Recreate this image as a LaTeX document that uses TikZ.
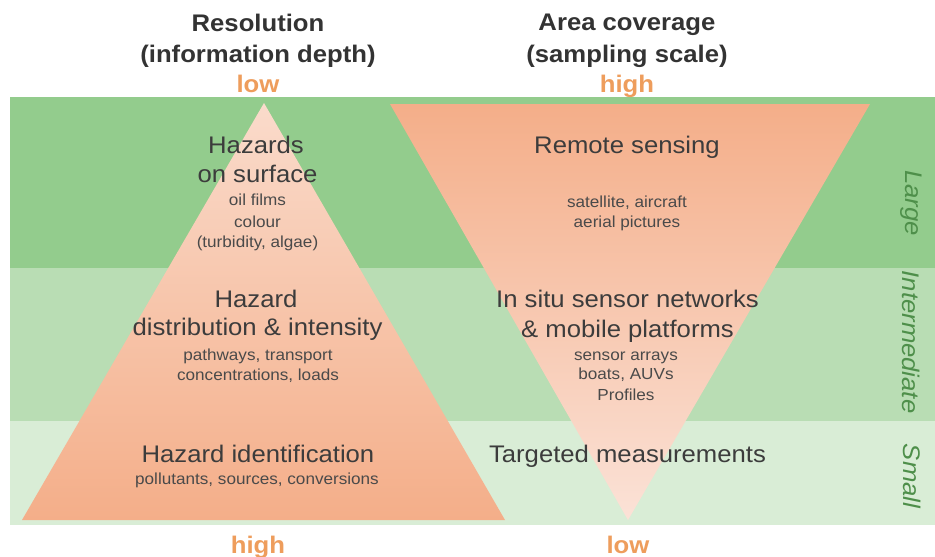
\documentclass[tikz,border=0pt]{standalone}
\usepackage{fontspec}
\setmainfont[FakeStretch=1.07]{Liberation Sans}
\begin{document}
\begin{tikzpicture}[x=1pt,y=-1pt,
  hdr/.style={font=\fontsize{24}{28}\selectfont\bfseries, text=hdrgray, inner sep=0pt, anchor=base},
  lowhigh/.style={font=\fontsize{24}{28}\selectfont\bfseries, text=orangetxt, inner sep=0pt, anchor=base},
  mainlbl/.style={font=\fontsize{24}{29}\selectfont, text=lblgray, inner sep=0pt, anchor=base},
  sublbl/.style={font=\fontsize{16}{20}\selectfont, text=sublgray, inner sep=0pt, anchor=base},
  sidelbl/.style={font=\fontsize{24}{28}\selectfont\itshape, text=sidegreen, rotate=-90, inner sep=0pt}
]
\definecolor{bandL}{HTML}{93CC8D}
\definecolor{bandI}{HTML}{B9DDB4}
\definecolor{bandS}{HTML}{D9EDD6}
\definecolor{hdrgray}{HTML}{333333}
\definecolor{orangetxt}{HTML}{EE9D5C}
\definecolor{lblgray}{HTML}{3C3C3C}
\definecolor{sublgray}{HTML}{4A4A4A}
\definecolor{sidegreen}{HTML}{4E8F4A}
\definecolor{peachdark}{HTML}{F4AE89}
\definecolor{peachlight}{HTML}{FADBCB}
\definecolor{peachpale}{HTML}{FBE2D7}
\useasboundingbox (0,0) rectangle (935,557);
\fill[white] (0,0) rectangle (935,557);
% bands
\fill[bandL] (10,97) rectangle (935,268);
\fill[bandI] (10,268) rectangle (935,421);
\fill[bandS] (10,421) rectangle (935,525);
% left pyramid
\coordinate (lapex) at (264,103);
\coordinate (lbl) at (22,520);
\coordinate (lbr) at (505,520);
\shade[top color=peachlight, bottom color=peachdark] (lapex) -- (lbr) -- (lbl) -- cycle;
% right inverted pyramid
\coordinate (rtl) at (390,104);
\coordinate (rtr) at (870,104);
\coordinate (rapex) at (628,520);
\shade[top color=peachdark, bottom color=peachpale] (rtl) -- (rtr) -- (rapex) -- cycle;
% headers
\node[hdr] (res) at (258,31) {Resolution};
\node[hdr] (resd) at (258,62) {(information depth)};
\node[lowhigh] (lowtop) at (258,92) {low};
\node[hdr] (area) at (627,30) {Area coverage};
\node[hdr] (aread) at (627,62) {(sampling scale)};
\node[lowhigh] (hightop) at (627,92) {high};
% left labels
\node[mainlbl] (haz1a) at (256,153) {Hazards};
\node[mainlbl] (haz1b) at (257.5,182) {on surface};
\node[sublbl] (haz1c) at (257.5,205) {oil films};
\node[sublbl] (haz1d) at (257.5,227) {colour};
\node[sublbl] (haz1e) at (257.5,247) {(turbidity, algae)};
\node[mainlbl] (haz2a) at (256,307) {Hazard};
\node[mainlbl] (haz2b) at (257.5,335) {distribution \& intensity};
\node[sublbl] (haz2c) at (258,360) {pathways, transport};
\node[sublbl] (haz2d) at (258,380) {concentrations, loads};
\node[mainlbl] (haz3a) at (258,462) {Hazard identification};
\node[sublbl] (haz3b) at (257,484) {pollutants, sources, conversions};
% right labels
\node[mainlbl] (rsa) at (627,153) {Remote sensing};
\node[sublbl] (rsb) at (627,207) {satellite, aircraft};
\node[sublbl] (rsc) at (627,227) {aerial pictures};
\node[mainlbl] (isna) at (627.5,307) {In situ sensor networks};
\node[mainlbl] (isnb) at (627.5,337) {\& mobile platforms};
\node[sublbl] (isnc) at (626,360) {sensor arrays};
\node[sublbl] (isnd) at (626,379) {boats, AUVs};
\node[sublbl] (isne) at (626,400) {Profiles};
\node[mainlbl] (tm) at (627.5,462) {Targeted measurements};
% bottom
\node[lowhigh] (highbot) at (258,553) {high};
\node[lowhigh] (lowbot) at (628,553) {low};
% side labels
\node[sidelbl] (large) at (911,203) {Large};
\node[sidelbl] (inter) at (911,342) {Intermediate};
\node[sidelbl] (small) at (912,476) {Small};
\end{tikzpicture}
\end{document}
